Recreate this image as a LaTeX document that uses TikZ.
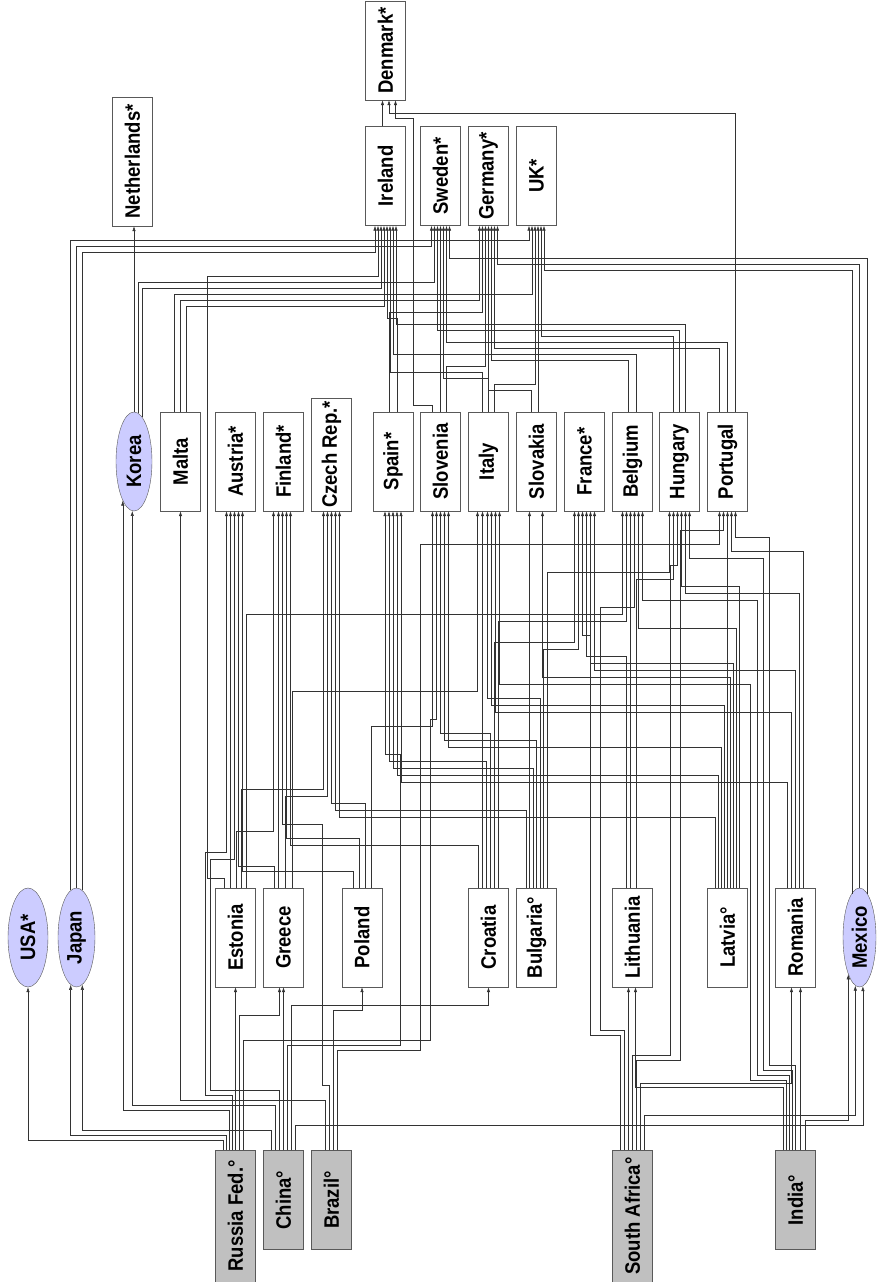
\documentclass[tikz,border=0pt]{standalone}
\usepackage{fontspec}
\setmainfont{Liberation Sans}
\usepackage{graphicx}
\usetikzlibrary{arrows.meta}
\usetikzlibrary{shapes.geometric}
\definecolor{lav}{RGB}{204,204,255}
\definecolor{boxgrey}{RGB}{192,192,192}
\tikzset{
box/.style={draw=black!65, fill=white, minimum width=40pt, minimum height=99pt, inner sep=0pt, font=\bfseries\fontsize{18.5}{20}\selectfont},
oval/.style={box, ellipse, fill=lav},
base/.style={box, fill=boxgrey},
conn/.style={-{Latex[length=5pt,width=3.4pt]}, draw=black!80, line width=0.5pt}}
\newcommand\lbl[1]{\rotatebox{90}{\scalebox{1}[1.13]{#1}}}
\newcommand\lnk[3]{\draw[conn] (#1) coordinate (p) -- (p |- 0,#2) -| (#3);}
\newcommand\lnkvia[5]{\draw[conn] (#1) coordinate (p) -- (p |- 0,#2) -| (#3,#4) -| (#5);}

\begin{document}
\begin{tikzpicture}[x=1pt,y=-1pt]
\useasboundingbox (0,0) rectangle (887,1282);

                \node[box, minimum height=129pt] (net) at (132.5,161.5) {\lbl{Netherlands*}};
                \node[box] (den) at (385.5,50.5) {\lbl{Denmark*}};
                \node[box] (ire) at (385.5,176) {\lbl{Ireland}};
                \node[box] (swe) at (440.5,176) {\lbl{Sweden*}};
                \node[box] (ger) at (488.5,176) {\lbl{Germany*}};
                \node[box] (uk) at (536.5,176) {\lbl{UK*}};

                \node[oval, minimum width=36pt] (kor) at (134,461.5) {\lbl{Korea}};
                \node[box] (mal) at (180.5,461.5) {\lbl{Malta}};
                \node[box] (aus) at (235.5,461.5) {\lbl{Austria*}};
                \node[box] (fin) at (283.5,461.5) {\lbl{Finland*}};
                \node[box, minimum height=113pt] (cze) at (331.5,454.5) {\lbl{Czech Rep.*}};
                \node[box] (spa) at (393,461.5) {\lbl{Spain*}};
                \node[box] (slo) at (440.5,461.5) {\lbl{Slovenia}};
                \node[box] (ita) at (488.5,461.5) {\lbl{Italy}};
                \node[box] (svk) at (536.5,461.5) {\lbl{Slovakia}};
                \node[box] (fra) at (584.5,461.5) {\lbl{France*}};
                \node[box] (bel) at (632.5,461.5) {\lbl{Belgium}};
                \node[box] (hun) at (679.5,461.5) {\lbl{Hungary}};
                \node[box] (por) at (727.5,461.5) {\lbl{Portugal}};

                \node[oval] (usa) at (28,937.5) {\lbl{USA*}};
                \node[oval, minimum width=37pt] (jap) at (76.5,937.5) {\lbl{Japan}};
                \node[box] (est) at (235.5,937.5) {\lbl{Estonia}};
                \node[box] (gre) at (283.5,937.5) {\lbl{Greece}};
                \node[box] (pol) at (362,937.5) {\lbl{Poland}};
                \node[box] (cro) at (488.5,937.5) {\lbl{Croatia}};
                \node[box] (bul) at (536.5,937.5) {\lbl{Bulgaria°}};
                \node[box] (lit) at (632.5,937.5) {\lbl{Lithuania}};
                \node[box] (lat) at (727.5,937.5) {\lbl{Latvia°}};
                \node[box] (rom) at (795.5,937.5) {\lbl{Romania}};
                \node[oval, minimum width=33pt] (mex) at (859.5,937.5) {\lbl{Mexico}};

                \node[base, minimum height=132pt] (rus) at (235.5,1216) {\lbl{Russia Fed.°}};
                \node[base] (chn) at (283.5,1200) {\lbl{China°}};
                \node[base] (bra) at (331.5,1200) {\lbl{Brazil°}};
                \node[base, minimum height=132pt] (saf) at (632.5,1216) {\lbl{South Africa°}};
                \node[base] (ind) at (795.5,1200) {\lbl{India°}};

                \draw[conn] (kor.north) -- (kor.north |- net.south);
                \draw[conn] ([xshift=-3pt]ire.north) -- ([xshift=-3pt]den.south);
                \lnk{[xshift=8pt]por.north}{113}{[xshift=3.5pt]den.south}
                \lnkvia{[xshift=-8pt]slo.north}{405}{413}{118}{[xshift=10pt]den.south}

                \lnk{jap.97}{240}{[xshift=-7.5pt]uk.south}
                \lnk{jap.90}{246}{[xshift=-9pt]swe.south}
                \lnk{jap.83}{252}{[xshift=-10.5pt]ire.south}
                \lnk{mex.80}{258}{[xshift=9pt]swe.south}
                \lnk{mex.90}{264}{[xshift=9pt]ger.south}
                \lnk{mex.100}{270}{[xshift=7.5pt]uk.south}
                \lnkvia{[xshift=-11pt]est.north}{878}{207}{276}{[xshift=-7.5pt]ire.south}
                \lnk{kor.85}{282}{[xshift=-6pt]swe.south}
                \lnk{kor.80}{288}{[xshift=-4.5pt]ire.south}
                \lnk{[xshift=-6pt]mal.north}{294}{[xshift=-4.5pt]uk.south}
                \lnk{mal.north}{300}{[xshift=-9pt]ger.south}
                \lnk{[xshift=6pt]mal.north}{306}{[xshift=-1.5pt]ire.south}
                \lnk{[xshift=-4pt]spa.north}{312}{[xshift=-6pt]ger.south}
                \lnk{[xshift=4pt]spa.north}{318}{[xshift=1.5pt]ire.south}
                \lnk{[xshift=6pt]hun.north}{324}{[xshift=10.5pt]ire.south}
                \lnk{hun.north}{330}{[xshift=-3pt]swe.south}
                \lnk{[xshift=-6pt]hun.north}{336}{[xshift=4.5pt]uk.south}
                \lnk{por.north}{342}{[xshift=6pt]swe.south}
                \lnk{[xshift=-8pt]por.north}{348}{[xshift=6pt]ger.south}
                \lnk{[xshift=4pt]bel.north}{354}{[xshift=7.5pt]ire.south}
                \lnk{[xshift=-4pt]bel.north}{360}{[xshift=3pt]ger.south}
                \lnk{[xshift=6pt]slo.north}{366}{[xshift=-3pt]ger.south}
                \lnk{[xshift=-6pt]ita.north}{372}{[xshift=4.5pt]ire.south}
                \lnk{ita.north}{378}{[xshift=3pt]swe.south}
                \lnk{[xshift=6pt]ita.north}{384}{[xshift=-1.5pt]uk.south}
                \lnk{[xshift=-5pt]svk.north}{390}{ger.south}
                \draw[conn] (slo.north) -- (swe.south);
                \draw[conn] ([xshift=1.5pt]svk.north) -- ([xshift=1.5pt]uk.south);

                \lnk{[xshift=8pt]rom.north}{551}{[xshift=4pt]por.south}
                \draw[conn] (lat.north) -- (por.south);
                \lnk{[xshift=10.5pt]bul.north}{572}{[xshift=-10pt]hun.south}
                \lnk{[xshift=4pt]lit.north}{579}{[xshift=-6pt]hun.south}
                \lnk{[xshift=12pt]lat.north}{586}{[xshift=2pt]hun.south}
                \lnk{[xshift=4pt]rom.north}{593}{[xshift=6pt]hun.south}
                \lnk{[xshift=11pt]est.north}{614}{[xshift=-10pt]bel.south}
                \lnk{[xshift=10pt]cro.north}{621}{[xshift=-6pt]bel.south}
                \lnk{[xshift=9pt]lat.north}{628}{[xshift=6pt]bel.south}
                \draw[conn] ([xshift=-2pt]lit.north) -- ([xshift=-2pt]bel.south);
                \lnk{[xshift=6pt]cro.north}{642}{[xshift=-10pt]fra.south}
                \lnk{[xshift=7pt]bul.north}{649}{[xshift=-6pt]fra.south}
                \lnk{[xshift=-6pt]lit.north}{656}{[xshift=2pt]fra.south}
                \lnk{[xshift=6pt]lat.north}{663}{[xshift=6pt]fra.south}
                \lnk{rom.north}{670}{[xshift=10pt]fra.south}
                \lnk{[xshift=3pt]lat.north}{677}{[xshift=6pt]svk.south}
                \draw[conn] ([xshift=-7pt]bul.north) -- ([xshift=-7pt]svk.south);
                \lnk{[xshift=9pt]gre.north}{691}{[xshift=-11pt]ita.south}
                \lnk{[xshift=3.5pt]bul.north}{698}{[xshift=-1pt]ita.south}
                \lnk{[xshift=-3pt]lat.north}{705}{[xshift=3pt]ita.south}
                \lnk{[xshift=-4pt]rom.north}{712}{[xshift=7pt]ita.south}
                \draw[conn] ([xshift=-6pt]cro.north) -- ([xshift=-6pt]ita.south);
                \lnk{[xshift=9pt]pol.north}{726}{[xshift=-8pt]slo.south}
                \lnk{[xshift=2pt]cro.north}{733}{slo.south}
                \lnk{bul.north}{740}{[xshift=4pt]slo.south}
                \lnk{[xshift=-6pt]lat.north}{747}{[xshift=8pt]slo.south}
                \lnk{[xshift=-2pt]cro.north}{761}{[xshift=-4pt]spa.south}
                \lnk{[xshift=-3.5pt]bul.north}{768}{spa.south}
                \lnk{[xshift=-9pt]lat.north}{775}{[xshift=4pt]spa.south}
                \lnk{[xshift=-8pt]rom.north}{782}{[xshift=8pt]spa.south}
                \lnk{[xshift=6pt]est.north}{789}{[xshift=-8pt]cze.south}
                \lnk{[xshift=2pt]gre.north}{796}{[xshift=-4pt]cze.south}
                \lnk{[xshift=3pt]pol.north}{803}{cze.south}
                \lnk{[xshift=-10.5pt]bul.north}{810}{[xshift=4pt]cze.south}
                \lnk{[xshift=-12pt]lat.north}{817}{[xshift=8pt]cze.south}
                \lnk{[xshift=1pt]est.north}{831}{[xshift=-10pt]fin.south}
                \lnk{[xshift=-3pt]pol.north}{838}{[xshift=3pt]fin.south}
                \lnk{[xshift=-10pt]cro.north}{845}{[xshift=7pt]fin.south}
                \draw[conn] ([xshift=-5pt]gre.north) -- ([xshift=-5pt]fin.south);
                \lnk{[xshift=-9pt]gre.north}{866}{[xshift=3pt]aus.south}
                \lnk{[xshift=-9pt]pol.north}{871}{[xshift=7pt]aus.south}
                \draw[conn] ([xshift=-5pt]est.north) -- ([xshift=-5pt]aus.south);

                \lnk{[xshift=-12pt]rus.north}{1140}{usa.south}
                \lnk{[xshift=-9pt]rus.north}{1135}{jap.263}
                \lnk{[xshift=-6pt]rus.north}{1110}{kor.254}
                \lnkvia{[xshift=-3pt]rus.north}{1095}{205}{852}{[xshift=-9pt]aus.south}
                \draw[conn] (rus.north) -- (est.south);
                \lnk{[xshift=4pt]rus.north}{1015}{[xshift=-4pt]gre.south}
                \lnkvia{[xshift=8pt]rus.north}{1040}{430}{719}{[xshift=-4pt]slo.south}

                \lnk{[xshift=-12pt]chn.north}{1130}{jap.277}
                \lnk{[xshift=-8pt]chn.north}{1105}{kor.268}
                \lnkvia{[xshift=-4pt]chn.north}{1090}{210}{859}{[xshift=-1pt]aus.south}
                \draw[conn] (chn.north) -- (gre.south);
                \lnkvia{[xshift=4pt]chn.north}{1045}{400}{754}{[xshift=-8pt]spa.south}
                \lnk{[xshift=8pt]chn.north}{1005}{cro.south}
                \lnk{[xshift=12pt]chn.north}{1125}{mex.274}

                \lnk{[xshift=-6pt]bra.north}{1100}{mal.south}
                \lnkvia{[xshift=-2pt]bra.north}{1085}{322}{824}{[xshift=-1pt]fin.south}
                \lnk{[xshift=2pt]bra.north}{1010}{pol.south}
                \lnkvia{[xshift=6pt]bra.north}{1050}{420}{544}{[xshift=-8pt]por.south}

                \lnkvia{[xshift=-12pt]saf.north}{1035}{590}{635}{[xshift=-2pt]fra.south}
                \lnkvia{[xshift=-8pt]saf.north}{1030}{600}{607}{[xshift=2pt]bel.south}
                \draw[conn] ([xshift=-4pt]saf.north) -- ([xshift=-4pt]lit.south);
                \lnkvia{saf.north}{1055}{670}{565}{[xshift=-2pt]hun.south}
                \lnkvia{[xshift=4pt]saf.north}{1060}{680}{530}{[xshift=-4pt]por.south}
                \lnk{[xshift=8pt]saf.north}{1083}{[xshift=-4pt]rom.south}
                \lnk{[xshift=12pt]saf.north}{1115}{mex.265}

                \lnk{[xshift=-12pt]ind.north}{1087}{[xshift=3pt]lit.south}
                \lnkvia{[xshift=-9pt]ind.north}{1080}{750}{684}{[xshift=11pt]ita.south}
                \lnkvia{[xshift=-6pt]ind.north}{1075}{757}{600}{[xshift=10pt]bel.south}
                \lnkvia{[xshift=-3pt]ind.north}{1070}{763}{558}{[xshift=10pt]hun.south}
                \lnkvia{ind.north}{1065}{769}{537}{[xshift=8pt]por.south}
                \draw[conn] ([xshift=5pt]ind.north) -- ([xshift=5pt]rom.south);
                \lnk{[xshift=10pt]ind.north}{1120}{mex.253}

\end{tikzpicture}
\end{document}
